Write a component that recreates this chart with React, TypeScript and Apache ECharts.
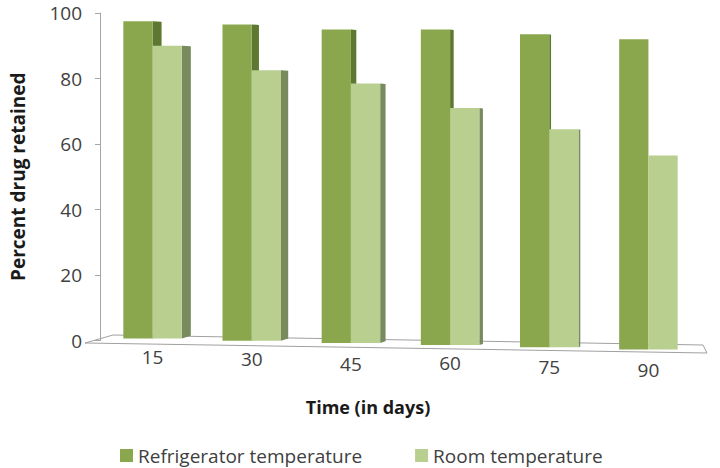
import React, { useEffect, useRef } from "react";
import * as echarts from "echarts";

const categories = ["15", "30", "45", "60", "75", "90"];
const refrigerator = [97.5, 96.5, 95, 95, 93.5, 92];
const room = [90, 82.5, 78.5, 71, 64.5, 56.5];
const yTicks = [0, 20, 40, 60, 80, 100];

const FONT = "Open Sans";
const REF_FRONT = "#8aa74e";
const REF_SIDE = "#5d7830";
const ROOM_FRONT = "#b8cf8f";
const ROOM_SIDE = "#7a8a5f";

function makeRender(which: number, front: string, side: string) {
  return (params: any, api: any) => {
    const idx = api.value(0);
    const val = api.value(1);
    const top = api.coord([idx, val]);
    const base = api.coord([idx, 0]);
    const band = api.size([1, 0])[0];
    const w = band * 0.295;
    const cx = top[0];
    const x0 = which === 0 ? cx - w : cx;
    const x1 = x0 + w;
    const yTop = top[1];
    const yBot = base[1] - 2 + 2.2 * idx;
    const d = Math.max(0, 9 - 1.8 * idx);
    const children: any[] = [];
    if (d > 0.5) {
      children.push({
        type: "polygon",
        shape: {
          points: [
            [x1, yTop],
            [x1 + d, yTop + 0.5],
            [x1 + d, yBot - d * 0.3],
            [x1, yBot],
          ],
        },
        style: { fill: side },
      });
    }
    children.push({
      type: "rect",
      shape: { x: x0, y: yTop, width: w, height: yBot - yTop },
      style: { fill: front },
    });
    return { type: "group", children };
  };
}

export default function App() {
  const ref = useRef<HTMLDivElement>(null);
  useEffect(() => {
    if (!ref.current) return;
    const chart = echarts.init(ref.current, null, { renderer: "svg" });
    const labelPads = [0, 2, 7, 6, 10, 13];
    const rich: any = {};
    labelPads.forEach((p, i) => {
      rich["l" + i] = {
        padding: [p, 0, 0, 0],
        fontSize: 19,
        color: "#404040",
        fontFamily: FONT,
      };
    });
    chart.setOption({
      animation: false,
      backgroundColor: "#ffffff",
      textStyle: { fontFamily: FONT },
      grid: { left: 93, width: 605, top: 13, bottom: 127.5 },
      legend: {
        left: 115,
        top: 441,
        itemWidth: 13,
        itemHeight: 13,
        itemGap: 53,
        icon: "rect",
        textStyle: { fontSize: 19, color: "#404040", fontFamily: FONT },
        data: ["Refrigerator temperature", "Room temperature"],
      },
      xAxis: {
        type: "category",
        data: categories,
        axisLine: { show: false },
        axisTick: { show: false },
        axisLabel: {
          margin: 7,
          formatter: (v: string, i: number) => `{l${i}|${v}}`,
          rich,
        },
      },
      yAxis: {
        type: "value",
        min: yTicks[0],
        max: yTicks[yTicks.length - 1],
        interval: 20,
        offset: 3,
        axisLine: { show: true, lineStyle: { color: "#a6a6a6", width: 1 } },
        axisTick: { show: true, length: 5, lineStyle: { color: "#a6a6a6" } },
        splitLine: { show: false },
        axisLabel: { margin: 18, fontSize: 19, color: "#404040", fontFamily: FONT },
        name: "Percent drug retained",
        nameLocation: "middle",
        nameRotate: 90,
        nameGap: 73,
        nameTextStyle: { fontSize: 19, fontWeight: "bold", color: "#1a1a1a", fontFamily: FONT },
      },
      graphic: [
        {
          type: "polygon",
          z: 0,
          shape: {
            points: [
              [85, 343],
              [113, 335],
              [703, 345],
              [707, 353],
            ],
          },
          style: { fill: "#ffffff", stroke: "#a0a0a0", lineWidth: 1 },
        },
        {
          type: "text",
          x: 368,
          y: 407,
          style: {
            text: "Time (in days)",
            fontSize: 18,
            fontWeight: "bold",
            fill: "#1a1a1a",
            fontFamily: FONT,
            align: "center",
            verticalAlign: "middle",
          },
        },
      ],
      series: [
        {
          name: "Refrigerator temperature",
          type: "custom",
          renderItem: makeRender(0, REF_FRONT, REF_SIDE),
          itemStyle: { color: REF_FRONT },
          encode: { x: 0, y: 1 },
          data: refrigerator.map((v, i) => [i, v]),
          z: 3,
        },
        {
          name: "Room temperature",
          type: "custom",
          renderItem: makeRender(1, ROOM_FRONT, ROOM_SIDE),
          itemStyle: { color: ROOM_FRONT },
          encode: { x: 0, y: 1 },
          data: room.map((v, i) => [i, v]),
          z: 4,
        },
      ],
    });
    return () => chart.dispose();
  }, []);
  return (
    <div
      ref={ref}
      style={{ position: "fixed", left: 0, top: 0, width: 720, height: 468 }}
    />
  );
}
